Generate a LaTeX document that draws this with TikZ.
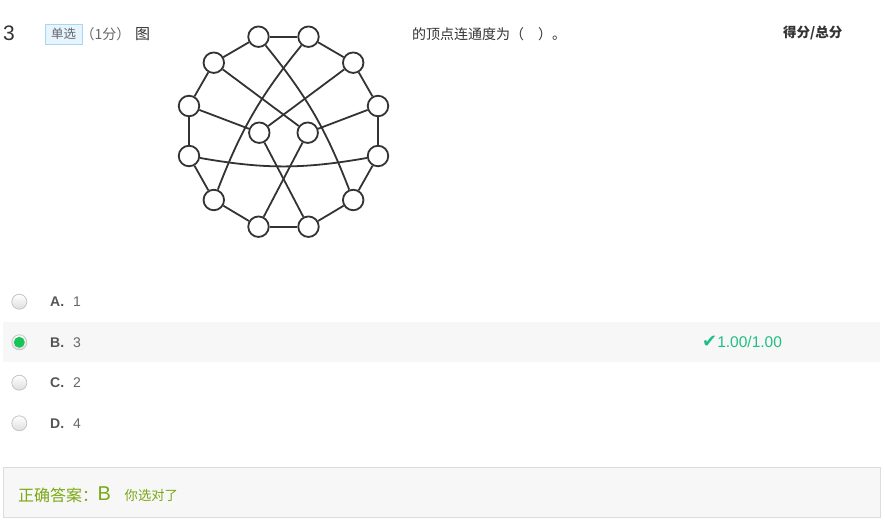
\documentclass[tikz,border=0pt]{standalone}
\usepackage{fontspec}
\setmainfont{Liberation Sans}
\newfontfamily\cjk{Noto Sans CJK SC}
\newfontfamily\sym{DejaVu Sans}
\definecolor{edgec}{HTML}{333333}
\definecolor{numc}{HTML}{333333}
\definecolor{graytxt}{HTML}{666666}
\definecolor{labc}{HTML}{555555}
\definecolor{badgebg}{HTML}{E6F4FD}
\definecolor{badgeln}{HTML}{A9D6F3}
\definecolor{rowbg}{HTML}{F7F7F7}
\definecolor{boxln}{HTML}{DCDCDC}
\definecolor{radioc}{HTML}{C4C4C4}
\definecolor{radiog}{HTML}{18C45A}
\definecolor{okc}{HTML}{1EBF85}
\definecolor{ansc}{HTML}{7BA813}
\tikzset{
  vtx/.style={circle, draw=edgec, fill=white, line width=1.8pt, minimum size=20.5pt, inner sep=0pt},
  gedge/.style={draw=edgec, line width=1.8pt},
  txt/.style={inner sep=0pt, anchor=west},
  radio/.style={circle, draw=radioc, line width=0.8pt, minimum size=15pt, inner sep=0pt, top color=white, bottom color=black!13},
  fs/.style={font=\fontsize{#1}{#1}\selectfont},
}
\begin{document}
\begin{tikzpicture}[x=1pt,y=-1pt]
\useasboundingbox (0,0) rectangle (885,526);
% header
\node[txt, fs=21, text=numc] (qnum) at (3,33) {3};
\node[draw=badgeln, fill=badgebg, line width=0.8pt, minimum width=37pt, minimum height=20pt, inner sep=0pt, text=graytxt, fs=12.5] (tag) at (63.5,34) {\cjk 单选};
\node[txt, fs=14, text=graytxt] (score) at (80.5,34) {\cjk （1分）};
\node[txt, fs=15, text=numc] (tu) at (135,34) {\cjk 图};
\node[txt, fs=14, text=numc] (stem) at (412,34.5) {\cjk 的顶点连通度为（\hspace{14pt}）。};
\node[txt, fs=13.5, text=numc] (head) at (783,33) {\cjk\bfseries 得分/总分};
% graph
\node[vtx] (t1) at (258.5,36.7) {};
\node[vtx] (t2) at (308.5,36.7) {};
\node[vtx] (ul) at (213.8,62.7) {};
\node[vtx] (ur) at (353.2,62.7) {};
\node[vtx] (l1) at (189,106) {};
\node[vtx] (r1) at (378,106) {};
\node[vtx] (c1) at (259.3,132.7) {};
\node[vtx] (c2) at (307.7,132.7) {};
\node[vtx] (l2) at (189,156) {};
\node[vtx] (r2) at (378,156) {};
\node[vtx] (ll) at (213.8,200) {};
\node[vtx] (lr) at (353.2,200) {};
\node[vtx] (b1) at (258.5,226.7) {};
\node[vtx] (b2) at (308.5,226.7) {};
\draw[gedge] (t1) -- (t2);
\draw[gedge] (t1) -- (ul);
\draw[gedge] (t2) -- (ur);
\draw[gedge] (ul) -- (l1);
\draw[gedge] (ur) -- (r1);
\draw[gedge] (l1) -- (l2);
\draw[gedge] (r1) -- (r2);
\draw[gedge] (l2) -- (ll);
\draw[gedge] (r2) -- (lr);
\draw[gedge] (ll) -- (b1);
\draw[gedge] (lr) -- (b2);
\draw[gedge] (b1) -- (b2);
\draw[gedge] (ul) -- (c2);
\draw[gedge] (ur) -- (c1);
\draw[gedge] (l1) -- (c1);
\draw[gedge] (r1) -- (c2);
\draw[gedge] (c1) -- (b2);
\draw[gedge] (c2) -- (b1);
\draw[gedge] (t1) to[bend left=9] (lr);
\draw[gedge] (t2) to[bend right=9] (ll);
\draw[gedge] (l2) to[bend right=10] (r2);
% options
\fill[rowbg] (3,322) rectangle (880,362);
\node[radio] (ra) at (19.3,301.7) {};
\node[radio] (rb) at (19.3,342.3) {};
\node[circle, fill=radiog, minimum size=11pt, inner sep=0pt] (rbdot) at (rb) {};
\node[radio] (rc) at (19.3,382.7) {};
\node[radio] (rd) at (19.3,423.3) {};
\node[txt, fs=14, text=labc] (la) at (50,301.7) {\bfseries A.};
\node[txt, fs=14, text=graytxt] (va) at (73,301.7) {1};
\node[txt, fs=14, text=labc] (lb) at (50,342.3) {\bfseries B.};
\node[txt, fs=14, text=graytxt] (vb) at (73,342.3) {3};
\node[txt, fs=14, text=labc] (lc) at (50,382.7) {\bfseries C.};
\node[txt, fs=14, text=graytxt] (vc) at (73,382.7) {2};
\node[txt, fs=14, text=labc] (ld) at (50,423.3) {\bfseries D.};
\node[txt, fs=14, text=graytxt] (vd) at (73,423.3) {4};
\node[txt, fs=15.5, text=okc] (ok) at (702,342) {{\sym\fontsize{18}{18}\selectfont ✔}1.00/1.00};
% answer box
\draw[draw=boxln, fill=rowbg, line width=0.8pt] (3,467) rectangle (880,517);
\node[txt, fs=16, text=ansc] (anslab) at (18,495) {\cjk 正确答案：};
\node[txt, fs=20, text=ansc] (ansb) at (97.5,494) {B};
\node[txt, fs=13.3, text=ansc] (ansok) at (124.5,495) {\cjk 你选对了};
\end{tikzpicture}
\end{document}
